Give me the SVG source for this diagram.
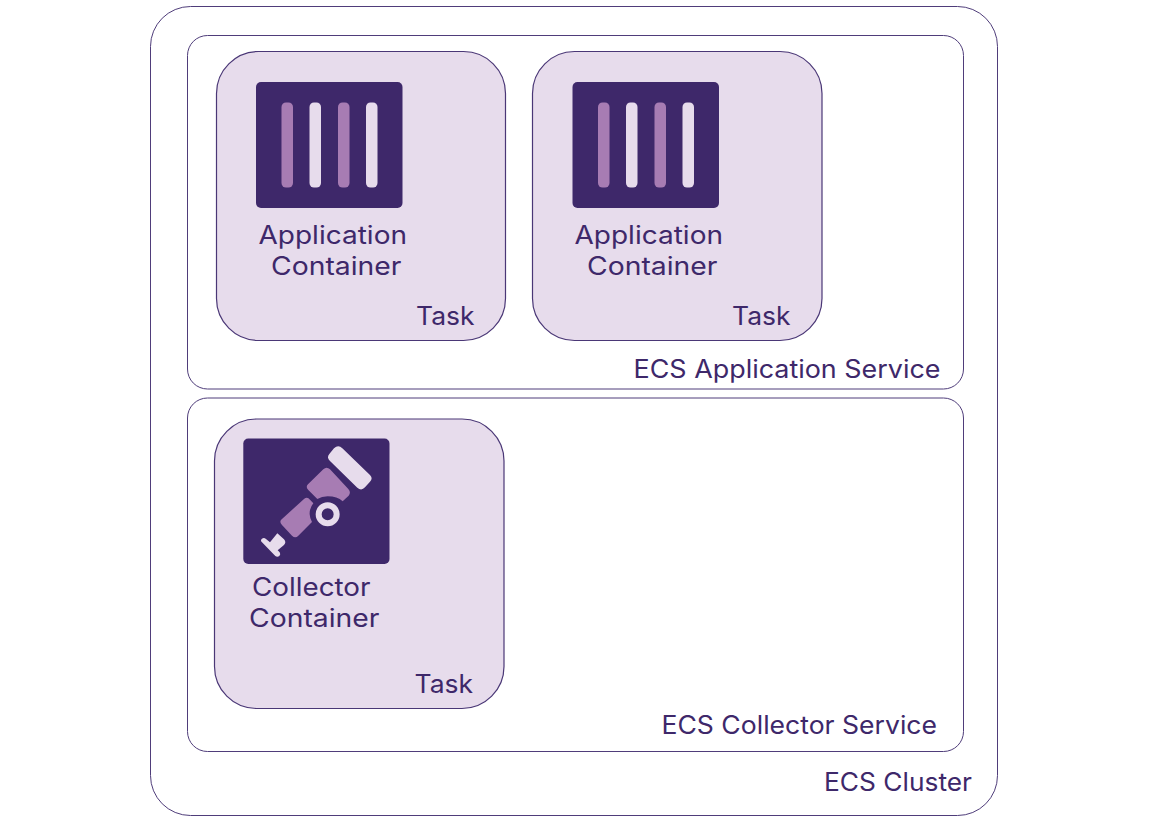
<svg xmlns="http://www.w3.org/2000/svg" width="1154" height="816" viewBox="0 0 1154 816">
<style>
.box{fill:#fff;stroke:#4f3d7a;stroke-width:1}
.task{fill:#e7dcec;stroke:#4a3776;stroke-width:1.2}
.icon{fill:#3e286a}
.mid{fill:#a77cb3}
.light{fill:#e7dcec}
text{font-family:"Inter","Liberation Sans",sans-serif;font-size:25px;fill:#3e286a}
</style>
<defs>
<g id="bars">
<rect class="icon" x="0" y="0" width="146.5" height="126" rx="5"/>
<rect class="mid" x="25.5" y="20.5" width="11.5" height="85" rx="4.5"/>
<rect class="light" x="53.5" y="20.5" width="11.5" height="85" rx="4.5"/>
<rect class="mid" x="82" y="20.5" width="11.5" height="85" rx="4.5"/>
<rect class="light" x="110" y="20.5" width="11.5" height="85" rx="4.5"/>
</g>
</defs>
<g id="ecs-cluster">
<rect class="box" x="150.5" y="6.5" width="847" height="809" rx="40"/>
<text x="824" y="790.5" textLength="148" lengthAdjust="spacingAndGlyphs">ECS Cluster</text>
</g>
<g id="ecs-application-service">
<rect class="box" x="187.5" y="35.5" width="776" height="353.5" rx="20"/>
<text x="633.5" y="377.5" textLength="307" lengthAdjust="spacingAndGlyphs">ECS Application Service</text>
</g>
<g id="ecs-collector-service">
<rect class="box" x="187.5" y="398" width="776" height="353.5" rx="20"/>
<text x="661.5" y="733.5" textLength="275.5" lengthAdjust="spacingAndGlyphs">ECS Collector Service</text>
</g>
<g id="task-1">
<rect class="task" x="216.5" y="51.5" width="289" height="289" rx="42"/>
<use href="#bars" x="256" y="82"/>
<text x="258.5" y="243.5" textLength="148.5" lengthAdjust="spacingAndGlyphs">Application</text>
<text x="271" y="275" textLength="130.5" lengthAdjust="spacingAndGlyphs">Container</text>
<text x="416" y="325" textLength="58.5" lengthAdjust="spacingAndGlyphs">Task</text>
</g>
<g id="task-2">
<rect class="task" x="532.5" y="51.5" width="289.5" height="289" rx="42"/>
<use href="#bars" x="572.5" y="82"/>
<text x="574.5" y="243.5" textLength="148.5" lengthAdjust="spacingAndGlyphs">Application</text>
<text x="587" y="275" textLength="130.5" lengthAdjust="spacingAndGlyphs">Container</text>
<text x="732" y="325" textLength="58.5" lengthAdjust="spacingAndGlyphs">Task</text>
</g>
<g id="task-3">
<rect class="task" x="214.5" y="419" width="289.5" height="289.5" rx="42"/>
<rect class="icon" x="243.3" y="438.5" width="146.2" height="125.5" rx="5"/>
<g transform="translate(230 425) scale(.3333)">
<path class="light" d="M312 70Q325 58 337 70L420 150Q430 160 420 170L405 187Q394 199 382 188L300 108Q289 97 298 87Z"/>
<path class="mid" d="M280 133Q290 124 300 133L355 192Q364 202 356 212L338 229Q322 214 293 214Q275 214 262 222L235 195Q226 186 234 178Z"/>
<path class="mid" d="M222 222Q232 214 240 224L250 235Q238 250 239 268Q240 282 246 291L205 332Q196 342 186 332L156 300Q146 290 156 282Z"/>
<circle cx="293" cy="268" r="27" fill="none" stroke="#e7dcec" stroke-width="18"/>
<path class="light" d="M142 325L162 343Q170 352 162 360L143 376L149 382Q153 388 148 393Q142 398 136 393L96 352Q90 346 96 341Q102 336 108 342L120 352Z"/>
</g>
<text x="252" y="595.5" textLength="118.5" lengthAdjust="spacingAndGlyphs">Collector</text>
<text x="249" y="627" textLength="130.5" lengthAdjust="spacingAndGlyphs">Container</text>
<text x="414.5" y="693" textLength="58.5" lengthAdjust="spacingAndGlyphs">Task</text>
</g>
</svg>
